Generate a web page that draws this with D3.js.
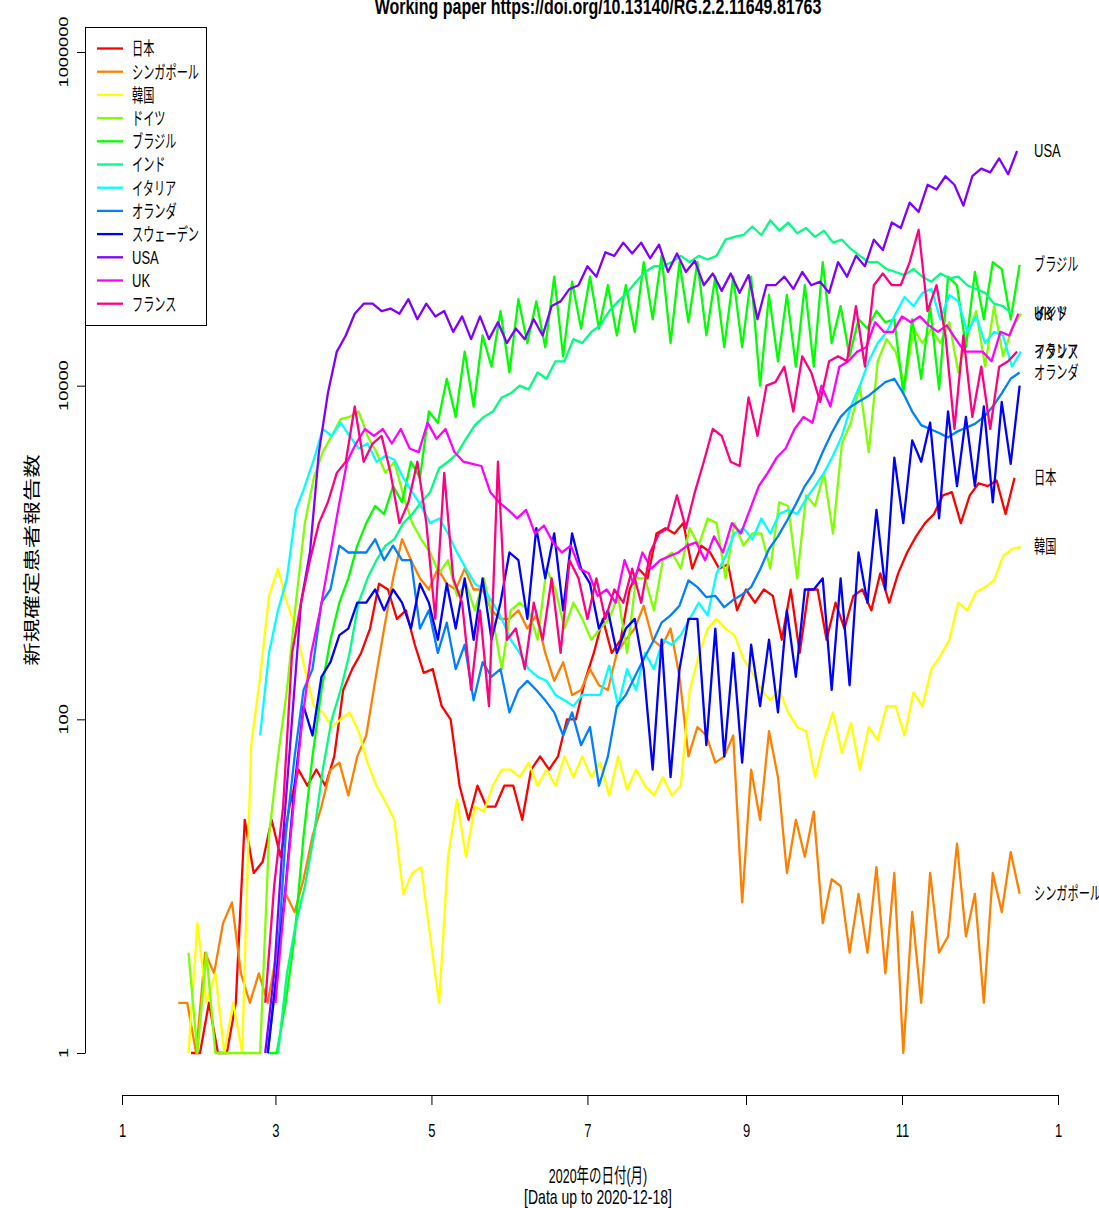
<!DOCTYPE html>
<html>
<head>
<meta charset="utf-8">
<script src="https://cdn.jsdelivr.net/npm/d3@7"></script>
<style>
html, body { margin: 0; padding: 0; background: #fff; }
svg { display: block; font-family: "Liberation Sans", Arial, "Noto Sans CJK JP", sans-serif; }
</style>
</head>
<body>
<div id="draw"></div>
<script>
// daily new cases, one value every 3.5 days from each start date
var STEP = 3.5;

var japanStart = "2020-01-28";
var japan = [1,1,2,1,1,2,25,12,14,25,15,30,50,40,50,40,60,150,200,250,350,650,600,400,450,280,190,200,120,100,
  40,25,40,30,30,40,40,25,50,60,50,60,100,100,170,250,400,250,300,600,800,700,1300,1400,1300,1500,800,1100,1000,800,
  850,450,600,500,600,550,300,600,250,600,600,300,500,350,550,600,450,750,500,750,1000,1250,1500,1700,2200,2300,1500,2200,2600,2500,
  2700,1700,2800];

var singaporeStart = "2020-01-23";
var singapore = [2,2,1,4,3,6,8,3,2,3,2,4,9,7,11,20,30,50,55,35,60,80,170,350,700,1200,900,700,600,800,
  650,600,800,600,600,450,400,400,450,350,420,250,170,220,140,150,200,160,150,250,300,350,480,300,270,350,180,60,90,80,
  55,60,80,8,50,25,85,45,12,25,15,28,6,11,10,4,9,4,13,3,12,1,7,2,12,4,5,18,5,9,
  2,12,7,16,9];

var koreaStart = "2020-01-27";
var korea = [1,6,2,3,1,2,1,70,180,550,800,500,350,200,120,110,90,100,110,85,55,40,32,25,9,12,13,5,2,15,
  33,15,30,28,40,50,50,45,55,40,50,40,60,45,60,45,55,35,60,38,50,40,35,45,35,40,150,240,350,400,
  350,320,230,190,150,130,150,110,90,85,45,75,110,63,95,50,90,75,120,120,80,145,120,200,240,300,500,450,580,620,
  680,950,1050,1080];

var germanyStart = "2020-01-27";
var germany = [4,1,4,1,1,1,1,1,1,20,60,150,500,1500,2800,4000,5000,6300,6500,7000,5000,4000,3000,3500,2200,1500,1200,1000,750,900,
  550,650,450,700,400,200,450,500,450,300,800,600,350,500,400,300,350,400,550,250,700,700,450,900,1000,800,1400,1100,1600,1500,
  700,1500,1100,1300,1300,800,2000,1900,700,2200,1900,3000,1300,4500,6000,10000,4000,14000,19000,16000,10000,22000,18000,22000,18000,24000,12000,20000,28000,13000,
  30000,15000,22000,27000];

var brazilStart = "2020-02-27";
var brazil = [1,1,2,5,20,60,150,300,500,700,1100,1500,1900,1700,2500,2000,3500,2800,7000,6000,11000,6500,16000,7500,20000,13000,28000,12000,33000,18000,
  32000,17000,45000,15000,42000,22000,45000,22000,40000,20000,40000,21000,55000,25000,60000,18000,55000,24000,55000,20000,45000,17000,45000,17000,45000,10000,35000,14000,35000,13000,
  40000,13000,55000,18000,30000,15000,25000,22000,28000,24000,25000,9000,25000,11000,30000,9500,45000,40000,17000,48000,25000,55000,50000,25000,53000];

var indiaStart = "2020-03-02";
var india = [1,3,6,10,20,50,100,150,250,500,700,900,1100,1200,1500,1700,2000,2300,3200,3500,3900,4800,5800,6500,7000,8500,9000,10000,9500,12000,
  11000,14000,14000,19000,18000,21000,23000,28000,32000,36000,42000,48000,52000,52000,55000,60000,55000,60000,57000,60000,75000,78000,80000,90000,80000,98000,85000,95000,82000,88000,
  78000,85000,72000,75000,66000,60000,55000,55000,50000,48000,46000,50000,45000,42000,47000,44000,45000,40000,38000,36000,31000,30000,27000];

var italyStart = "2020-02-24";
var italy = [80,250,450,700,1800,2500,3600,5500,5000,6000,5000,4200,4500,3500,3800,3600,2800,2300,1900,1500,1600,1300,1000,800,650,600,500,400,300,250,
  200,180,170,140,130,120,140,140,140,210,120,200,150,250,200,300,280,320,400,500,420,750,950,1300,1400,1200,1600,1300,1700,1800,
  1700,2100,2500,3000,3800,5000,7500,10000,14000,18000,21000,27000,34000,30000,36000,38000,25000,35000,32000,21000,26000,18000,21000,20000,13000,16000];

var netherlandsStart = "2020-02-27";
var netherlands = [1,3,20,60,150,200,500,600,1100,1000,1000,1000,1200,900,1100,900,900,350,450,250,380,200,280,130,220,180,200,110,150,170,
  150,130,110,80,110,70,90,40,60,120,140,180,230,290,380,420,480,680,620,540,550,470,520,560,620,790,1050,1250,1550,1950,
  2500,3000,4000,5200,6500,7400,8000,8600,9500,10500,11000,9000,7000,5800,5500,5200,4900,5300,5600,5900,6500,7500,9000,11000,12000];

var swedenStart = "2020-02-27";
var sweden = [1,3,10,40,120,80,180,220,320,350,500,500,600,450,600,500,350,650,500,300,650,350,700,300,700,300,500,1000,900,400,
  1400,700,1300,450,1300,800,650,350,450,250,350,400,200,50,300,45,200,400,400,70,350,60,250,55,280,120,300,110,450,180,
  600,600,700,150,700,160,1000,500,1800,600,3700,1500,4700,3500,6000,1600,7000,2500,6500,2500,7500,2000,8000,3400,10000];

var usaStart = "2020-02-26";
var usa = [1,3,20,100,500,1000,4000,9000,16000,20000,27000,31000,31000,28000,29000,27000,33000,25000,31000,26000,28000,21000,26000,19000,26000,19000,24000,18000,22000,19000,
  25000,20000,30000,32000,38000,40000,52000,45000,63000,60000,72000,62000,72000,58000,70000,48000,62000,48000,56000,40000,47000,37000,47000,36000,46000,25000,40000,40000,45000,38000,
  48000,40000,42000,36000,55000,45000,60000,52000,75000,65000,95000,88000,125000,110000,160000,150000,180000,160000,120000,180000,200000,190000,230000,185000,255000];

var ukStart = "2020-03-01";
var uk = [2,8,30,100,250,450,900,1800,3500,4500,5500,5000,5500,4500,5500,4200,4000,6000,4800,5500,4000,3500,3400,3300,2300,2000,1800,1600,1800,1300,
  1450,1150,1000,1100,800,750,550,600,500,900,650,1000,800,900,950,1000,1100,1150,900,1250,1000,1500,1300,1800,2500,3000,3700,4200,5500,6500,
  6000,10000,7500,13000,14000,16000,17000,24000,21000,21000,26000,24000,26000,23000,21000,23000,19000,16000,16000,16000,14000,21000,20000,27000];

var franceStart = "2020-02-26";
var france = [2,10,30,250,500,900,1500,2000,3000,3500,7500,3500,4500,5000,3000,1500,2000,3500,1500,400,3000,700,500,150,450,120,3500,300,350,200,
  500,300,700,250,900,700,400,700,400,600,500,800,500,1000,1300,1400,2200,1400,2300,3500,5500,5000,3500,3300,8500,5000,10000,10500,13000,7000,
  15000,12000,8000,14000,15000,14000,30000,13000,40000,47000,40000,40000,55000,86000,28000,40000,20000,5500,20000,6500,13000,5500,13000,14000,16000];

var names = ["日本", "シンガポール", "韓国", "ドイツ", "ブラジル", "インド", "イタリア", "オランダ", "スウェーデン", "USA", "UK", "フランス"];
var colors = ["#FF0000", "#FF8000", "#FFFF00", "#80FF00", "#00FF00", "#00FF80", "#00FFFF", "#0080FF", "#0000FF", "#8000FF", "#FF00FF", "#FF0080"];
var starts = [japanStart, singaporeStart, koreaStart, germanyStart, brazilStart, indiaStart, italyStart, netherlandsStart, swedenStart, usaStart, ukStart, franceStart];
var valueLists = [japan, singapore, korea, germany, brazil, india, italy, netherlands, sweden, usa, uk, france];
// names written at the right end of the lines
var endLabels = ["日本", "シンガポール", "韓国", "ドイツ", "ブラジル", "インド", "イタリア", "オランダ", "USA", "UK", "フランス"];

var monthTicks = ["2020-01-01", "2020-03-01", "2020-05-01", "2020-07-01", "2020-09-01", "2020-11-01", "2021-01-01"];
var monthLabels = ["1", "3", "5", "7", "9", "11", "1"];
var yTicks = [1, 100, 10000, 1000000];

var titleText = "Working paper https://doi.org/10.13140/RG.2.2.11649.81763";
var yTitle = "新規確定患者報告数";
var xTitle = "2020年の日付(月)";
var xNote = "[Data up to 2020-12-18]";

var W = 1099, H = 1208;
var K = 1.4; // the picture is stretched vertically
var DAY = 864e5;

var series = names.map(function(n, k) {
  var t0 = Date.parse(starts[k]);
  return {
    name: n,
    color: colors[k],
    points: valueLists[k].map(function(v, i) { return { date: new Date(t0 + i * STEP * DAY), value: v }; })
  };
});

var x = d3.scaleUtc()
  .domain([new Date(Date.parse("2020-01-01")), new Date(Date.parse("2021-01-01"))])
  .range([122, 1058]);
var y = d3.scaleLog().domain([1, 1000000]).range([1053, 52]);

var svg = d3.select('#draw').append('svg').attr('width', W).attr('height', H);
svg.append('rect').attr('width', W).attr('height', H).attr('fill', '#fff');

function stretched(g, px, py, str, size, opts) {
  opts = opts || {};
  // japanese glyphs are narrower in the original
  var sx = /[^\x00-\x7F]/.test(str) && !opts.rotate ? 0.86 : 1;
  var t = g.append('text')
    .attr('transform', 'translate(' + px + ',' + py + ') scale(' + sx + ',' + K + ')' + (opts.rotate ? ' rotate(-90)' : ''))
    .attr('font-size', size)
    .attr('fill', opts.fill || '#000')
    .attr('text-anchor', opts.anchor || 'start')
    .text(str);
  if (opts.bold) t.attr('font-weight', 'bold');
  if (opts.dy) t.attr('dy', opts.dy);
  return t;
}

// title (cut at the top edge)
stretched(svg, 598, 14, titleText, 16, { anchor: 'middle', bold: true });

// lines
var line = d3.line()
  .x(function(d) { return x(d.date); })
  .y(function(d) { return y(d.value); });

svg.append('g').selectAll('path')
  .data(series)
  .enter().append('path')
  .attr('d', function(s) { return line(s.points); })
  .attr('fill', 'none')
  .attr('stroke', function(s) { return s.color; })
  .attr('stroke-width', 2.3)
  .attr('stroke-linejoin', 'round');

// right-hand labels at the last value
series.forEach(function(s) {
  if (endLabels.indexOf(s.name) < 0) return;
  var last = s.points[s.points.length - 1];
  stretched(svg, 1034, y(last.value), s.name, 13, { dy: '0.35em' });
});

// y axis
var yAxis = svg.append('g')
  .attr('transform', 'translate(85,0)')
  .call(d3.axisLeft(y).tickValues(yTicks).tickFormat(d3.format('d')).tickSize(8).tickSizeOuter(0));
yAxis.select('.domain').attr('stroke', '#000');
yAxis.selectAll('.tick line').attr('stroke', '#000');
yAxis.selectAll('.tick text').remove();
yTicks.forEach(function(v) {
  stretched(svg, 68, y(v), String(v), 13, { anchor: 'middle', rotate: true });
});
stretched(svg, 38, 560, yTitle, 16.8, { anchor: 'middle', rotate: true });

// x axis
var xAxis = svg.append('g')
  .attr('transform', 'translate(0,1095)')
  .call(d3.axisBottom(x)
    .tickValues(monthTicks.map(function(d) { return new Date(Date.parse(d)); }))
    .tickFormat(function(d, i) { return monthLabels[i]; })
    .tickSize(10).tickSizeOuter(0));
xAxis.select('.domain').attr('stroke', '#000');
xAxis.selectAll('.tick line').attr('stroke', '#000');
xAxis.selectAll('.tick text')
  .attr('y', 0).attr('dy', 0)
  .attr('font-size', 13)
  .attr('fill', '#000')
  .attr('font-family', '"Liberation Sans", Arial, sans-serif')
  .attr('transform', 'translate(0,42) scale(1,' + K + ')');

stretched(svg, 598, 1183, xTitle, 14.5, { anchor: 'middle' });
stretched(svg, 598, 1204, xNote, 14, { anchor: 'middle' });

// legend
var lg = svg.append('g');
lg.append('rect')
  .attr('x', 85.5).attr('y', 27.5).attr('width', 121).attr('height', 298)
  .attr('fill', '#fff').attr('stroke', '#000').attr('stroke-width', 1);
series.forEach(function(s, i) {
  var ly = 48.5 + i * 23.2;
  lg.append('line')
    .attr('x1', 97).attr('x2', 123).attr('y1', ly).attr('y2', ly)
    .attr('stroke', s.color).attr('stroke-width', 2.3);
  stretched(lg, 132, ly, s.name, 13, { dy: '0.38em' });
});
</script>
</body>
</html>
